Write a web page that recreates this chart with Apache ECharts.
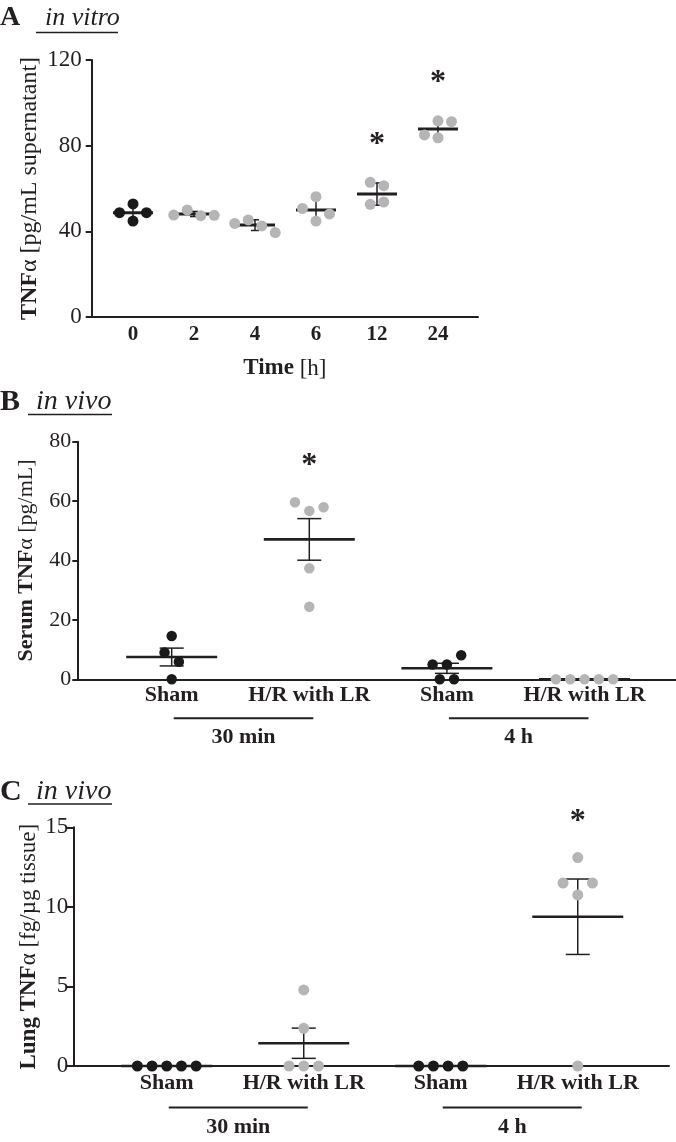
<!DOCTYPE html>
<html><head><meta charset="utf-8">
<script src="https://cdn.jsdelivr.net/npm/echarts@6/dist/echarts.min.js"></script>
<style>html,body{margin:0;padding:0;background:#fff}#c{width:676px;height:1142px}</style>
</head><body><div id="c"></div>
<script>
// ---------- Panel A (in vitro) ----------
const catsA = ['0', '2', '4', '6', '12', '24'];
const ptsA = [
  [52.8, 48.7, 48.7, 44.8],
  [47.6, 50.0, 47.3, 47.5],
  [43.7, 45.3, 42.5, 39.4],
  [56.2, 50.7, 48.1, 44.8],
  [62.9, 61.3, 52.6, 53.7],
  [91.6, 85.0, 91.2, 83.7]
];
const meanA = [48.7, 48.1, 42.9, 50.0, 57.4, 87.8];
const errA = [3.3, 1.2, 2.5, 4.8, 5.2, 4.05];
const grayA = [0, 1, 1, 1, 1, 1];
const starA = [[4, 83], [5, 112]];
const ticksA = [0, 40, 80, 120];

// ---------- Panel B (serum, in vivo) ----------
const catsB = ['Sham', 'H/R with LR', 'Sham', 'H/R with LR'];
const ptsB = [
  [14.6, 9.0, 5.9, 0],
  [59.6, 56.7, 57.9, 37.4, 24.4],
  [5.0, 5.0, 8.1, 0, 0],
  [0, 0, 0, 0, 0]
];
const meanB = [7.5, 47.1, 3.7, 0];
const errB = [3.0, 7.0, 1.7, 0];
const grayB = [0, 1, 0, 1];
const starB = [[1, 73.5]];
const ticksB = [0, 20, 40, 60, 80];

// ---------- Panel C (lung, in vivo) ----------
const catsC = ['Sham', 'H/R with LR', 'Sham', 'H/R with LR'];
const ptsC = [
  [0, 0, 0, 0, 0],
  [4.78, 2.37, 0, 0, 0],
  [0, 0, 0, 0],
  [13.1, 11.5, 11.5, 10.75, 0]
];
const meanC = [0, 1.43, 0, 9.38];
const errC = [0, 0.95, 0, 2.37];
const grayC = [0, 1, 0, 1];
const starC = [[3, 15.67]];
const ticksC = [0, 5, 10, 15];

const groupsBC = [[0, 1, '30 min'], [2, 3, '4 h']];

// ---------- styling ----------
const INK = '#231f20', BLACK = '#1a1a1a', GRAY = '#b5b5b7';
const FF = '"Liberation Serif", "Times New Roman", serif';

const L = {
  A: {left: 91.7, top: 60, width: 386.3, height: 257, xmin: -0.677, xmax: 5.656, ymax: 120, S: 13.5, D: 11, W: 40, cap: 4},
  B: {left: 77.3, top: 441.7, width: 598.7, height: 237.6, xmin: -0.686, xmax: 3.665, ymax: 80, S: 14.3, D: 10.5, W: 91, cap: 12},
  C: {left: 73.3, top: 827.3, width: 595.7, height: 238.7, xmin: -0.682, xmax: 3.666, ymax: 15, S: 14.7, D: 11, W: 91, cap: 12}
};

// GraphPad-like column scatter layout: bin by pixel height, spread within bin
function swarm(vals, k, h, D, S) {
  const bins = {};
  vals.forEach((v, i) => { const b = Math.floor(v * k / h + 1e-9); (bins[b] = bins[b] || []).push(i); });
  const keys = Object.keys(bins).map(Number).sort((a, b) => b - a);
  const slot = new Array(vals.length).fill(0);
  const placed = [];
  keys.forEach(b => {
    const idx = bins[b], n = idx.length;
    const step = (n === 2 && bins[b - 1] && bins[b + 1]) ? 2 : 1;
    const base = idx.map((_, j) => (j - (n - 1) / 2) * step);
    const shifts = [0, 0.5, -0.5, 1, -1, 1.5, -1.5, 2, -2];
    let chosen = base;
    for (const sh of shifts) {
      const cand = base.map(o => o + sh);
      const ok = cand.every((o, j) => placed.every(p => Math.hypot((o - p.o) * S, (vals[idx[j]] - p.v) * k) >= D * 0.85));
      if (ok) { chosen = cand; break; }
    }
    chosen.forEach((o, j) => { slot[idx[j]] = o; placed.push({o: o, v: vals[idx[j]]}); });
  });
  return slot;
}

function dotData(pts, gray, lay) {
  const k = lay.height / lay.ymax;
  const out = [];
  pts.forEach((vals, ci) => {
    const slots = swarm(vals, k, 14, lay.D, lay.S);
    vals.forEach((v, i) => out.push([ci, v, slots[i], gray[ci]]));
  });
  return out;
}

function dotSeries(pts, gray, lay, gi) {
  return {
    type: 'custom', xAxisIndex: gi, yAxisIndex: gi, clip: false, z: 5,
    data: dotData(pts, gray, lay),
    renderItem: (params, api) => {
      const p = api.coord([api.value(0), api.value(1)]);
      return {type: 'circle', shape: {cx: p[0] + api.value(2) * lay.S, cy: p[1], r: lay.D / 2},
        style: {fill: api.value(3) ? GRAY : BLACK}};
    }
  };
}

function meanSeries(mean, err, lay, gi, lw) {
  return {
    type: 'custom', xAxisIndex: gi, yAxisIndex: gi, clip: false, z: 4,
    data: mean.map((m, i) => [i, m, err[i]]),
    renderItem: (params, api) => {
      const x = api.value(0), m = api.value(1), e = api.value(2);
      const pm = api.coord([x, m]);
      const ch = [{type: 'line', shape: {x1: pm[0] - lay.W / 2, y1: pm[1], x2: pm[0] + lay.W / 2, y2: pm[1]},
        style: {stroke: INK, lineWidth: lw}}];
      if (e > 0) {
        const pt = api.coord([x, m + e]), pb = api.coord([x, m - e]);
        ch.push({type: 'line', shape: {x1: pm[0], y1: pt[1], x2: pm[0], y2: pb[1]}, style: {stroke: INK, lineWidth: 1.5}});
        ch.push({type: 'line', shape: {x1: pm[0] - lay.cap, y1: pt[1], x2: pm[0] + lay.cap, y2: pt[1]}, style: {stroke: INK, lineWidth: 1.5}});
        ch.push({type: 'line', shape: {x1: pm[0] - lay.cap, y1: pb[1], x2: pm[0] + lay.cap, y2: pb[1]}, style: {stroke: INK, lineWidth: 1.5}});
      }
      return {type: 'group', children: ch};
    }
  };
}

function starSeries(stars, gi) {
  const fs = 32;
  return {
    type: 'custom', xAxisIndex: gi, yAxisIndex: gi, clip: false, z: 6,
    data: stars,
    renderItem: (params, api) => {
      const p = api.coord([api.value(0), api.value(1)]);
      return {type: 'text', style: {text: '*', x: p[0], y: p[1] + fs * 0.16, font: 'bold ' + fs + 'px ' + FF,
        align: 'center', verticalAlign: 'middle', fill: INK}};
    }
  };
}

function bracketSeries(gi, lineDy, textDy) {
  return {
    type: 'custom', xAxisIndex: gi, yAxisIndex: gi, clip: false, z: 3,
    data: groupsBC.map(g => [g[0], g[1]]),
    renderItem: (params, api) => {
      const a = api.coord([api.value(0), 0]), b = api.coord([api.value(1), 0]);
      const y = a[1];
      return {type: 'group', children: [
        {type: 'line', shape: {x1: a[0] + 2, y1: y + lineDy, x2: b[0] + 4, y2: y + lineDy}, style: {stroke: INK, lineWidth: 2}},
        {type: 'text', style: {text: groupsBC[params.dataIndex][2], x: (a[0] + b[0]) / 2 + 3, y: y + textDy,
          font: 'bold 22px ' + FF, align: 'center', verticalAlign: 'middle', fill: INK}}
      ]};
    }
  };
}

function xAxis(lay, cats, gi, fs, margin) {
  return {
    type: 'value', gridIndex: gi, min: lay.xmin, max: lay.xmax,
    splitLine: {show: false},
    axisLine: {show: true, onZero: false, lineStyle: {color: INK, width: 2}},
    axisTick: {show: false},
    axisLabel: {customValues: cats.map((c, i) => i), formatter: v => cats[Math.round(v)],
      fontFamily: FF, fontWeight: 'bold', fontSize: fs, color: INK, margin: margin}
  };
}

function yAxis(lay, ticks, gi, name, gap, nameFs, labFs, margin, tickLen) {
  return {
    type: 'value', gridIndex: gi, min: 0, max: lay.ymax, interval: ticks[1] - ticks[0],
    splitLine: {show: false},
    axisLine: {show: true, onZero: false, lineStyle: {color: INK, width: 2}},
    axisTick: {show: true, length: tickLen, lineStyle: {color: INK, width: 2}},
    axisLabel: {fontFamily: FF, fontSize: labFs, color: INK, margin: margin},
    name: name, nameLocation: 'middle', nameRotate: 90, nameGap: gap, nameMoveOverlap: false,
    nameTextStyle: {fontFamily: FF, fontSize: nameFs, color: INK,
      rich: {b: {fontFamily: FF, fontWeight: 'bold', fontSize: nameFs, color: INK},
             r: {fontFamily: FF, fontSize: nameFs, color: INK}}}
  };
}

function titleGraphic(letter, sub, y, subX, lineX1, lineX2, lineY, fs, subFs) {
  return [
    {type: 'text', style: {text: letter, x: 0, y: y, font: 'bold ' + fs + 'px ' + FF, verticalAlign: 'middle', fill: INK}},
    {type: 'text', style: {text: sub, x: subX, y: y, font: 'italic ' + subFs + 'px ' + FF, verticalAlign: 'middle', fill: INK}},
    {type: 'line', shape: {x1: lineX1, y1: lineY, x2: lineX2, y2: lineY}, style: {stroke: INK, lineWidth: 1.6}}
  ];
}

const chart = echarts.init(document.getElementById('c'), null, {renderer: 'canvas'});
const grids = ['A', 'B', 'C'].map(k => ({left: L[k].left, top: L[k].top, width: L[k].width, height: L[k].height, containLabel: false}));

const graphics = [].concat(
  titleGraphic('A', 'in vitro', 18, 45, 36, 118, 32.5, 28, 26),
  titleGraphic('B', 'in vivo', 402, 36, 28, 112, 414.5, 30, 28),
  titleGraphic('C', 'in vivo', 792, 36, 28, 112, 804, 30, 28)
);

chart.setOption({
  animation: false,
  backgroundColor: '#ffffff',
  grid: grids,
  xAxis: [
    Object.assign(xAxis(L.A, catsA, 0, 21, 7), {
      name: '{b|Time} {r|[h]}', nameLocation: 'middle', nameGap: 40, nameMoveOverlap: false,
      nameTextStyle: {fontFamily: FF, fontSize: 23, color: INK,
        rich: {b: {fontFamily: FF, fontWeight: 'bold', fontSize: 23, color: INK}, r: {fontFamily: FF, fontSize: 23, color: INK}}}
    }),
    xAxis(L.B, catsB, 1, 22, 5),
    xAxis(L.C, catsC, 2, 22, 6)
  ],
  yAxis: [
    yAxis(L.A, ticksA, 0, '{b|TNF}{r|α [pg/mL supernatant]}', 50, 24, 23, 10, 6),
    yAxis(L.B, ticksB, 1, '{b|Serum TNF}{r|α [pg/mL]}', 40, 22, 22, 6, 5),
    yAxis(L.C, ticksC, 2, '{b|Lung TNF}{r|α [fg/µg tissue]}', 33, 23, 23, 5, 7)
  ],
  graphic: graphics,
  series: [
    meanSeries(meanA, errA, L.A, 0, 3), dotSeries(ptsA, grayA, L.A, 0), starSeries(starA, 0),
    meanSeries(meanB, errB, L.B, 1, 2.6), dotSeries(ptsB, grayB, L.B, 1), starSeries(starB, 1), bracketSeries(1, 39, 58),
    meanSeries(meanC, errC, L.C, 2, 2.6), dotSeries(ptsC, grayC, L.C, 2), starSeries(starC, 2), bracketSeries(2, 41.5, 61.5)
  ]
});
</script></body></html>
